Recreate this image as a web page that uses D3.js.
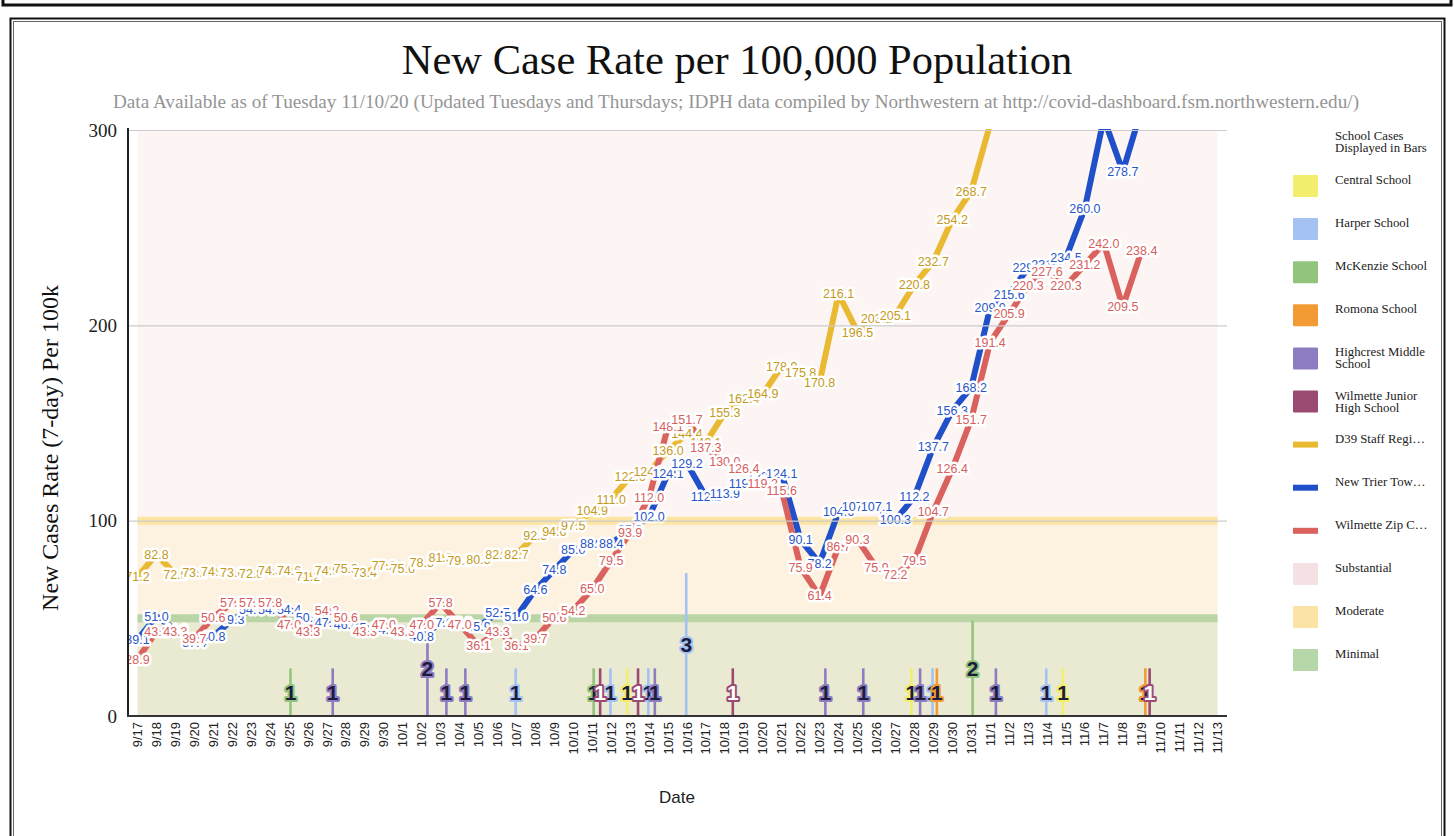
<!DOCTYPE html>
<html>
<head>
<meta charset="utf-8">
<script src="https://cdn.jsdelivr.net/npm/d3@7"></script>
<style>
  body { margin: 0; background: #fff; }
  svg { display: block; }
</style>
</head>
<body>
<svg id="chart" width="1454" height="836"></svg>
<script>
// ---- data ----
const dates = ['9/17','9/18','9/19','9/20','9/21','9/22','9/23','9/24','9/25','9/26','9/27','9/28','9/29','9/30',
  '10/1','10/2','10/3','10/4','10/5','10/6','10/7','10/8','10/9','10/10','10/11','10/12','10/13','10/14','10/15',
  '10/16','10/17','10/18','10/19','10/20','10/21','10/22','10/23','10/24','10/25','10/26','10/27','10/28','10/29',
  '10/30','10/31','11/1','11/2','11/3','11/4','11/5','11/6','11/7','11/8','11/9','11/10','11/11','11/12','11/13'];

// D39 staff region (gold), starts 9/17
const d39Staff = [71.2, 82.8, 72.5, 73.2, 74.1, 73.6, 72.8, 74.3, 74.6, 71.2, 74.5, 75.3, 73.4, 77.2,
  75.6, 78.5, 81.3, 79.5, 80.3, 82.4, 82.7, 92.5, 94.6, 97.5, 104.9, 111.0, 122.6, 124.9, 136.0,
  144.4, 140.1, 155.3, 162.4, 164.9, 178.9, 175.8, 170.8, 216.1, 196.5, 203.2, 205.1, 220.8, 232.7,
  254.2, 268.7, 303.0];

// New Trier Township (blue)
const newTrier = [39.1, 51.0, 44.2, 37.4, 40.8, 49.3, 54.4, 54.4, 54.4, 50.2, 47.6, 46.8, 45.1, 44.2,
  42.5, 40.8, 47.6, 47.6, 45.9, 52.7, 51.0, 64.6, 74.8, 85.0, 88.4, 88.4, 95.2, 102.0, 124.1,
  129.2, 112.2, 113.9, 119.0, 122.4, 124.1, 90.1, 78.2, 104.6, 107.1, 107.1, 100.3, 112.2, 137.7,
  156.3, 168.2, 209.0, 215.6, 229.5, 231.2, 234.5, 260.0, 306.0, 278.7, 311.0];

// Wilmette zip code (red)
const wilmetteZip = [28.9, 43.3, 43.3, 39.7, 50.6, 57.8, 57.8, 57.8, 47.0, 43.3, 54.2, 50.6, 43.3, 47.0,
  43.3, 47.0, 57.8, 47.0, 36.1, 43.3, 36.1, 39.7, 50.6, 54.2, 65.0, 79.5, 93.9, 112.0, 148.1,
  151.7, 137.3, 130.0, 126.4, 119.2, 115.6, 75.9, 61.4, 86.7, 90.3, 75.9, 72.2, 79.5, 104.7,
  126.4, 151.7, 191.4, 205.9, 220.3, 227.6, 220.3, 231.2, 242.0, 209.5, 238.4];

// school cases shown as bars: [date, cases]
const centralCases   = [['10/13', 1], ['10/28', 1], ['11/5', 1]];
const harperCases    = [['10/7', 1], ['10/12', 1], ['10/14', 1], ['10/16', 3], ['10/29', 1], ['11/4', 1]];
const mckenzieCases  = [['9/25', 1], ['10/11', 1], ['10/31', 2]];
const romonaCases    = [['10/29', 1], ['11/9', 1]];
const highcrestCases = [['9/27', 1], ['10/2', 2], ['10/3', 1], ['10/4', 1], ['10/14', 1], ['10/23', 1],
  ['10/25', 1], ['10/28', 1], ['11/1', 1]];
const wjhsCases      = [['10/11', 1], ['10/13', 1], ['10/18', 1], ['11/9', 1]];

// risk level bands (upper bound of each)
const levelNames = ['Substantial', 'Moderate', 'Minimal'];
const levelTops = [300, 100, 50];

const yTicks = [0, 100, 200, 300];

// ---- styling ----
const schools = [
  { name: 'Central School', cases: centralCases, color: '#f3ee6e' },
  { name: 'Harper School', cases: harperCases, color: '#a4c2f4' },
  { name: 'McKenzie School', cases: mckenzieCases, color: '#93c47d' },
  { name: 'Romona School', cases: romonaCases, color: '#f29b34' },
  { name: 'Highcrest Middle School', cases: highcrestCases, color: '#8e7cc3' },
  { name: 'Wilmette Junior High School', cases: wjhsCases, color: '#9b4a72' }
];
const lines = [
  { name: 'D39 Staff Regi\u2026', values: d39Staff, color: '#e8b931', text: '#c49a22' },
  { name: 'New Trier Tow\u2026', values: newTrier, color: '#1f4fc9', text: '#2a56c6' },
  { name: 'Wilmette Zip C\u2026', values: wilmetteZip, color: '#d9625f', text: '#d6605d' }
];
const levelFill = { Substantial: '#fcf5f4', Moderate: '#fdf1e0', Minimal: '#e9ead1' };
const levelEdge = { Substantial: 'none', Moderate: '#fce4a2', Minimal: '#b9d5a6' };
const levelLegend = { Substantial: '#f4e1e4', Moderate: '#fbe3a6', Minimal: '#b6d7a8' };

const serif = "'Liberation Serif', 'Times New Roman', serif";
const sans = "'Liberation Sans', Arial, sans-serif";

const svg = d3.select('#chart');
const pL = 128, pR = 1227, pT = 130, pB = 716;

const x = d3.scaleBand().domain(dates).range([pL, pR]);
const xc = d => x(d) + x.bandwidth() / 2;
const y = d3.scaleLinear().domain([0, 300]).range([pB, pT]);
const yBar = d3.scaleLinear().domain([0, 12.3]).range([pB, pT]);
const sub = d3.scaleBand().domain(schools.map(s => s.name)).range([-4, 9]);

// frame
svg.append('path').attr('d', `M3,0V5H1451V0`).attr('fill', 'none')
  .attr('stroke', '#111').attr('stroke-width', 3);
svg.append('rect').attr('x', 10.5).attr('y', 18.5).attr('width', 1434).attr('height', 840)
  .attr('fill', 'none').attr('stroke', '#111').attr('stroke-width', 2);
svg.append('rect').attr('x', 13.5).attr('y', 21.5).attr('width', 1428).attr('height', 840)
  .attr('fill', 'none').attr('stroke', '#666').attr('stroke-width', 1);

// titles
svg.append('text').attr('x', 737).attr('y', 74).attr('text-anchor', 'middle')
  .attr('font-family', serif).attr('font-size', 42.5).attr('fill', '#111')
  .text('New Case Rate per 100,000 Population');
svg.append('text').attr('x', 736).attr('y', 108).attr('text-anchor', 'middle')
  .attr('font-family', serif).attr('font-size', 19.2).attr('fill', '#959595')
  .text('Data Available as of Tuesday 11/10/20 (Updated Tuesdays and Thursdays; IDPH data compiled by Northwestern at http://covid-dashboard.fsm.northwestern.edu/)');

// clip to plot area
svg.append('clipPath').attr('id', 'plot-clip')
  .append('rect').attr('x', pL).attr('y', pT - 1).attr('width', pR - pL).attr('height', pB - pT + 1);

const plot = svg.append('g').attr('clip-path', 'url(#plot-clip)');

// level bands
const x0 = xc(dates[0]), x1 = xc(dates[dates.length - 1]);
levelNames.forEach((name, i) => {
  const lo = i < levelNames.length - 1 ? levelTops[i + 1] : 0;
  plot.append('rect')
    .attr('x', x0).attr('width', x1 - x0)
    .attr('y', y(levelTops[i])).attr('height', y(lo) - y(levelTops[i]))
    .attr('fill', levelFill[name]);
});

// grid
const yAxis = d3.axisLeft(y).tickValues(yTicks).tickSize(-(pR - pL)).tickFormat('');
const grid = svg.append('g').attr('transform', `translate(${pL},0)`).call(yAxis);
grid.select('.domain').remove();
grid.selectAll('line').attr('stroke', '#cccccc').attr('stroke-width', 1.2);

levelNames.forEach((name, i) => {
  if (levelEdge[name] === 'none') return;
  plot.append('line')
    .attr('x1', x0).attr('x2', x1)
    .attr('y1', y(levelTops[i])).attr('y2', y(levelTops[i]))
    .attr('stroke', levelEdge[name]).attr('stroke-width', 8);
});

// school bars
const barData = [];
schools.forEach(s => s.cases.forEach(([d, n]) => barData.push({ school: s, date: d, n })));
const barCx = d => xc(d.date) + sub(d.school.name) + sub.bandwidth() / 2;

plot.selectAll('rect.bar').data(barData).enter().append('rect')
  .attr('class', 'bar')
  .attr('x', d => barCx(d) - 1.3)
  .attr('width', 2.6)
  .attr('y', d => yBar(d.n))
  .attr('height', d => pB - yBar(d.n))
  .attr('fill', d => d.school.color);

// lines
const lineGen = d3.line().x((v, i) => xc(dates[i])).y(v => y(v));
lines.forEach(s => {
  plot.append('path').datum(s.values)
    .attr('d', lineGen)
    .attr('fill', 'none')
    .attr('stroke', s.color)
    .attr('stroke-width', 6)
    .attr('stroke-linejoin', 'miter')
    .attr('stroke-miterlimit', 3);
});

// point labels
lines.forEach(s => {
  plot.append('g').selectAll('text')
    .data(s.values.map((v, i) => ({ v, i })).filter(d => d.v <= 300))
    .enter().append('text')
      .attr('x', d => xc(dates[d.i]))
      .attr('y', d => y(d.v))
      .attr('dy', '0.35em')
      .attr('text-anchor', 'middle')
      .attr('font-family', sans)
      .attr('font-size', 12.5)
      .attr('fill', s.text)
      .attr('stroke', '#fff')
      .attr('stroke-width', 5)
      .attr('stroke-linejoin', 'round')
      .attr('paint-order', 'stroke')
      .text(d => d.v.toFixed(1));
});

// bar labels
plot.append('g').selectAll('text').data(barData).enter().append('text')
  .attr('x', d => barCx(d))
  .attr('y', d => (pB + yBar(d.n)) / 2)
  .attr('dy', '0.36em')
  .attr('text-anchor', 'middle')
  .attr('font-family', sans)
  .attr('font-weight', 'bold')
  .attr('font-size', 21)
  .attr('fill', d => d.school.name.startsWith('Wilmette') ? '#fff' : '#1c1c3c')
  .attr('stroke', d => d.school.color)
  .attr('stroke-width', 4)
  .attr('stroke-linejoin', 'round')
  .attr('paint-order', 'stroke')
  .text(d => d.n);

// axes
svg.append('line').attr('x1', pL).attr('x2', pL).attr('y1', pT - 2).attr('y2', pB + 1)
  .attr('stroke', '#222').attr('stroke-width', 2);
svg.append('line').attr('x1', pL - 1).attr('x2', pR).attr('y1', pB).attr('y2', pB)
  .attr('stroke', '#333').attr('stroke-width', 2);

svg.append('g').selectAll('text').data(yTicks).enter().append('text')
  .attr('x', 117).attr('y', d => y(d)).attr('dy', '0.35em')
  .attr('text-anchor', 'end')
  .attr('font-family', serif).attr('font-size', 19).attr('fill', '#222')
  .text(d => d);

svg.append('g').selectAll('text').data(dates).enter().append('text')
  .attr('transform', d => `translate(${xc(d)},722) rotate(-90)`)
  .attr('dy', '0.35em')
  .attr('text-anchor', 'end')
  .attr('font-family', sans).attr('font-size', 13).attr('fill', '#222')
  .text(d => d);

svg.append('text').attr('transform', 'translate(58,448) rotate(-90)')
  .attr('text-anchor', 'middle')
  .attr('font-family', serif).attr('font-size', 24).attr('fill', '#111')
  .text('New Cases Rate (7-day) Per 100k');

svg.append('text').attr('x', 677).attr('y', 803).attr('text-anchor', 'middle')
  .attr('font-family', sans).attr('font-size', 17).attr('fill', '#222')
  .text('Date');

// legend
const legend = svg.append('g').attr('font-family', serif).attr('font-size', 12.8).attr('fill', '#222');
legend.append('text').attr('x', 1335).attr('y', 140).text('School Cases');
legend.append('text').attr('x', 1335).attr('y', 152).text('Displayed in Bars');

const legendItems = [
  ...schools.map(s => ({ name: s.name, color: s.color, kind: 'box' })),
  ...lines.map(s => ({ name: s.name, color: s.color, kind: 'line' })),
  ...levelNames.map(n => ({ name: n, color: levelLegend[n], kind: 'box' }))
];
const wrapNames = { 'Highcrest Middle School': ['Highcrest Middle', 'School'],
  'Wilmette Junior High School': ['Wilmette Junior', 'High School'] };

legendItems.forEach((it, i) => {
  const cy = 186 + i * 43.1;
  if (it.kind === 'box') {
    legend.append('rect').attr('x', 1293).attr('y', cy - 11).attr('width', 25).attr('height', 22)
      .attr('rx', 1).attr('fill', it.color);
  } else {
    legend.append('rect').attr('x', 1293).attr('y', cy - 3).attr('width', 25).attr('height', 6)
      .attr('fill', it.color);
  }
  const rows = wrapNames[it.name] || [it.name];
  rows.forEach((r, k) => {
    legend.append('text').attr('x', 1335).attr('y', cy - 2 + k * 12).text(r);
  });
});
</script>
</body>
</html>
